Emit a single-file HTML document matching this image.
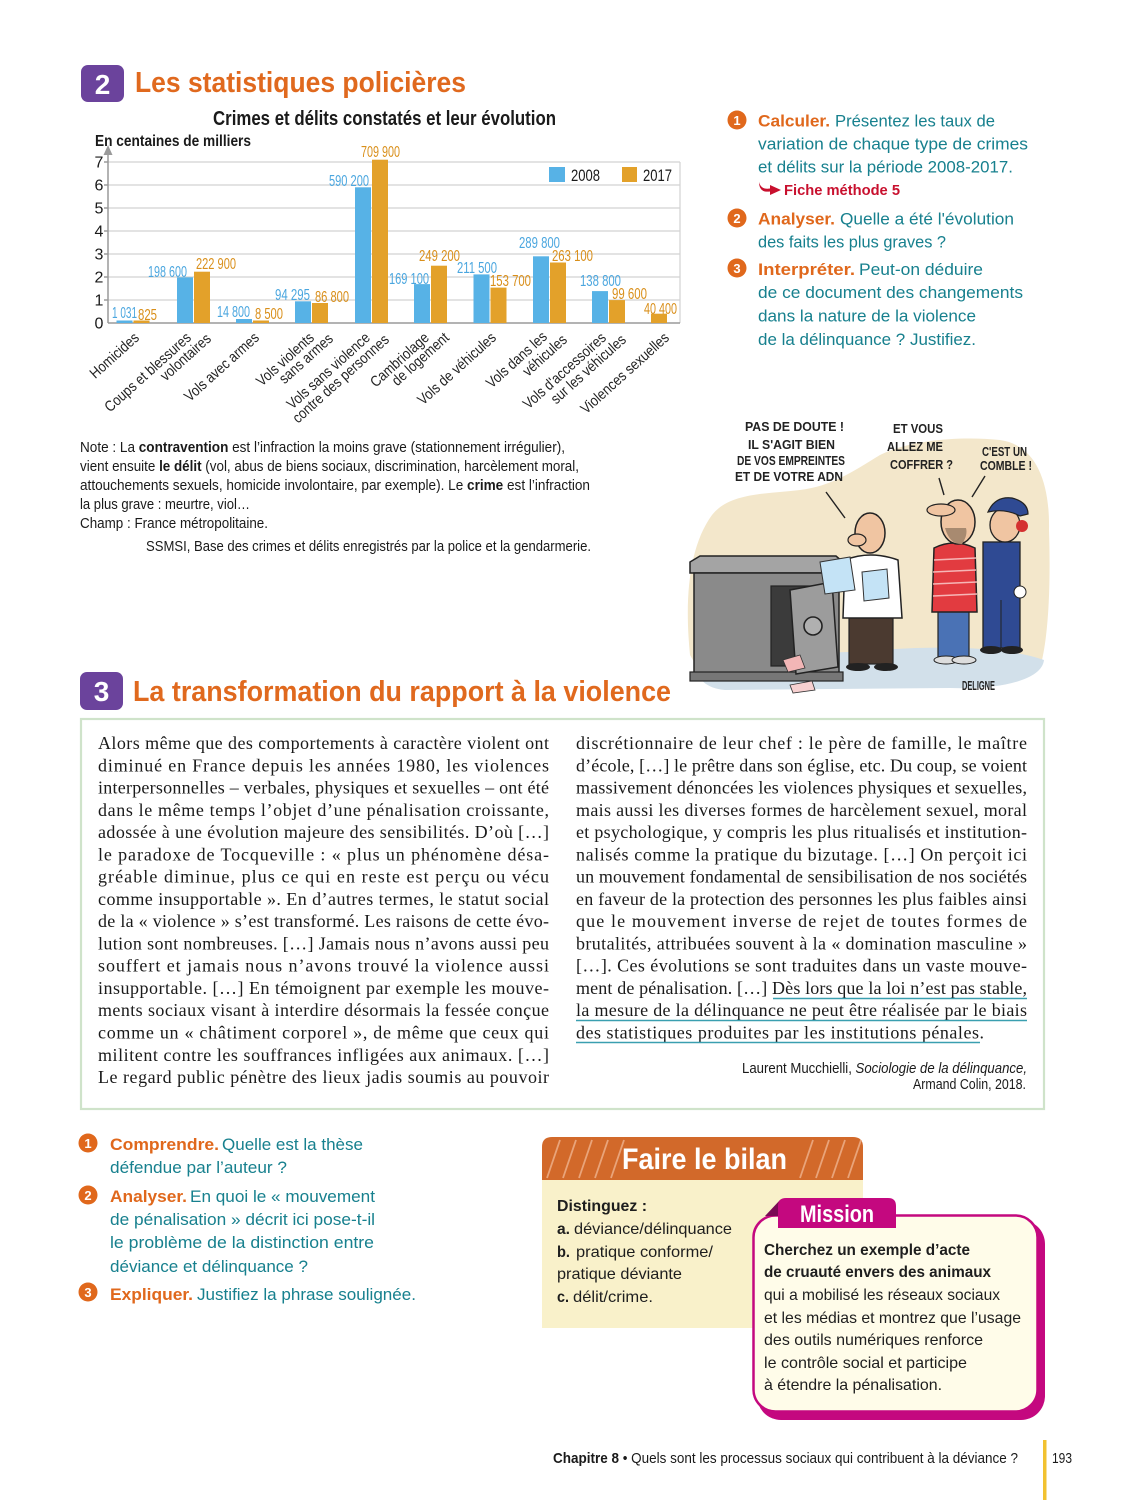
<!DOCTYPE html>
<html>
<head>
<meta charset="utf-8">
<style>
html,body{margin:0;padding:0;background:#fff;}
svg{display:block;}
text{font-family:"Liberation Sans",sans-serif;}
.ser text, text.ser{font-family:"Liberation Serif",serif;font-size:18px;fill:#1a1a1a;}
.q{font-size:17px;fill:#17808e;}
.qb{font-size:17px;fill:#e0681c;font-weight:bold;}
.nt{font-size:15px;fill:#1a1a1a;}
.xl text{font-size:15px;fill:#222;}
.lb{font-size:16px;fill:#4aa6df;}
.lo{font-size:16px;fill:#d98f1a;}
.hand{font-size:13px;fill:#222;font-weight:bold;}
.bil{font-size:16px;fill:#1e1e1e;}
.mis{font-size:16px;fill:#1e1e1e;}
</style>
</head>
<body>
<svg width="1125" height="1500" viewBox="0 0 1125 1500" xmlns="http://www.w3.org/2000/svg">
<rect x="0" y="0" width="1125" height="1500" fill="#fff"/>

<!-- ===== Section 2 header ===== -->
<rect x="81" y="65" width="43" height="37" rx="7" fill="#6b439c"/>
<text x="102.5" y="94" font-size="28" font-weight="bold" fill="#fff" text-anchor="middle">2</text>
<text x="135" y="92" font-size="29" font-weight="bold" fill="#e0691e" textLength="331" lengthAdjust="spacingAndGlyphs">Les statistiques policières</text>

<!-- ===== Chart ===== -->
<text x="213" y="125" font-size="20" font-weight="bold" fill="#1a1a1a" textLength="343" lengthAdjust="spacingAndGlyphs">Crimes et délits constatés et leur évolution</text>
<text x="95" y="146" font-size="16" font-weight="bold" fill="#1a1a1a" textLength="156" lengthAdjust="spacingAndGlyphs">En centaines de milliers</text>

<!-- grid -->
<g stroke="#d2d2d2" stroke-width="1.2">
<line x1="108" y1="300" x2="680" y2="300"/>
<line x1="108" y1="277" x2="680" y2="277"/>
<line x1="108" y1="254" x2="680" y2="254"/>
<line x1="108" y1="231" x2="680" y2="231"/>
<line x1="108" y1="208" x2="680" y2="208"/>
<line x1="108" y1="185" x2="680" y2="185"/>
<line x1="108" y1="162" x2="680" y2="162"/>
<line x1="680" y1="162" x2="680" y2="323"/>
</g>
<!-- axes -->
<g stroke="#9a9a9a" stroke-width="1.5">
<line x1="108" y1="151" x2="108" y2="323"/>
<line x1="108" y1="323" x2="680" y2="323"/>
<line x1="104" y1="300" x2="108" y2="300"/>
<line x1="104" y1="277" x2="108" y2="277"/>
<line x1="104" y1="254" x2="108" y2="254"/>
<line x1="104" y1="231" x2="108" y2="231"/>
<line x1="104" y1="208" x2="108" y2="208"/>
<line x1="104" y1="185" x2="108" y2="185"/>
<line x1="104" y1="162" x2="108" y2="162"/>
</g>
<polygon points="103.5,155 108,145 112.5,155" fill="#9a9a9a"/>
<!-- y labels -->
<g font-size="16" fill="#1a1a1a" text-anchor="middle">
<text x="99" y="328.5">0</text>
<text x="99" y="305.5">1</text>
<text x="99" y="282.5">2</text>
<text x="99" y="259.5">3</text>
<text x="99" y="236.5">4</text>
<text x="99" y="213.5">5</text>
<text x="99" y="190.5">6</text>
<text x="99" y="167.5">7</text>
</g>

<!-- legend -->
<rect x="549" y="167" width="16" height="15" fill="#57b2e6"/>
<text x="571" y="181" font-size="17" fill="#1a1a1a" textLength="29" lengthAdjust="spacingAndGlyphs">2008</text>
<rect x="622" y="167" width="15" height="15" fill="#e3a12a"/>
<text x="643" y="181" font-size="17" fill="#1a1a1a" textLength="29" lengthAdjust="spacingAndGlyphs">2017</text>

<!-- bars -->
<g fill="#57b2e6">
<rect x="116.5" y="320.5" width="16" height="2.5"/>
<rect x="177" y="277.3" width="16" height="45.7"/>
<rect x="236" y="319" width="16" height="4"/>
<rect x="295" y="301.3" width="16" height="21.7"/>
<rect x="355" y="187.3" width="16" height="135.7"/>
<rect x="414" y="284.1" width="16" height="38.9"/>
<rect x="473.5" y="274.4" width="16" height="48.6"/>
<rect x="533" y="256.3" width="16" height="66.7"/>
<rect x="592" y="291.1" width="16" height="31.9"/>
</g>
<g fill="#e3a12a">
<rect x="133.5" y="320.5" width="16" height="2.5"/>
<rect x="194" y="271.7" width="16" height="51.3"/>
<rect x="253" y="320.5" width="16" height="2.5"/>
<rect x="312" y="303" width="16" height="20"/>
<rect x="372" y="159.7" width="16" height="163.3"/>
<rect x="431" y="265.7" width="16" height="57.3"/>
<rect x="490.5" y="287.6" width="16" height="35.4"/>
<rect x="550" y="262.5" width="16" height="60.5"/>
<rect x="609" y="300.1" width="16" height="22.9"/>
<rect x="651" y="313.7" width="16" height="9.3"/>
</g>

<!-- value labels -->
<text class="lb" x="112" y="318" textLength="25" lengthAdjust="spacingAndGlyphs">1 031</text>
<text class="lo" x="138" y="320" textLength="19" lengthAdjust="spacingAndGlyphs">825</text>
<text class="lb" x="148" y="277" textLength="39" lengthAdjust="spacingAndGlyphs">198 600</text>
<text class="lo" x="196" y="269" textLength="40" lengthAdjust="spacingAndGlyphs">222 900</text>
<text class="lb" x="217" y="317" textLength="33" lengthAdjust="spacingAndGlyphs">14 800</text>
<text class="lo" x="255" y="319" textLength="28" lengthAdjust="spacingAndGlyphs">8 500</text>
<text class="lb" x="275" y="300" textLength="35" lengthAdjust="spacingAndGlyphs">94 295</text>
<text class="lo" x="315" y="302" textLength="34" lengthAdjust="spacingAndGlyphs">86 800</text>
<text class="lb" x="329" y="186" textLength="40" lengthAdjust="spacingAndGlyphs">590 200</text>
<text class="lo" x="361" y="157" textLength="39" lengthAdjust="spacingAndGlyphs">709 900</text>
<text class="lb" x="389" y="284" textLength="40" lengthAdjust="spacingAndGlyphs">169 100</text>
<text class="lo" x="419" y="261" textLength="41" lengthAdjust="spacingAndGlyphs">249 200</text>
<text class="lb" x="457" y="273" textLength="40" lengthAdjust="spacingAndGlyphs">211 500</text>
<text class="lo" x="490" y="286" textLength="41" lengthAdjust="spacingAndGlyphs">153 700</text>
<text class="lb" x="519" y="248" textLength="41" lengthAdjust="spacingAndGlyphs">289 800</text>
<text class="lo" x="552" y="261" textLength="41" lengthAdjust="spacingAndGlyphs">263 100</text>
<text class="lb" x="580" y="286" textLength="41" lengthAdjust="spacingAndGlyphs">138 800</text>
<text class="lo" x="612" y="299" textLength="35" lengthAdjust="spacingAndGlyphs">99 600</text>
<text class="lo" x="644" y="314" textLength="33" lengthAdjust="spacingAndGlyphs">40 400</text>

<!-- x labels -->
<g class="xl" text-anchor="end">
<text transform="translate(140,339) rotate(-42) scale(0.86,1)">Homicides</text>
<text transform="translate(192,339) rotate(-42) scale(0.86,1)">Coups et blessures</text>
<text transform="translate(212,340) rotate(-42) scale(0.86,1)">volontaires</text>
<text transform="translate(260,339) rotate(-42) scale(0.86,1)">Vols avec armes</text>
<text transform="translate(315,339) rotate(-42) scale(0.86,1)">Vols violents</text>
<text transform="translate(334,340) rotate(-42) scale(0.86,1)">sans armes</text>
<text transform="translate(371,339) rotate(-42) scale(0.86,1)">Vols sans violence</text>
<text transform="translate(390,341) rotate(-42) scale(0.86,1)">contre des personnes</text>
<text transform="translate(430,339) rotate(-42) scale(0.86,1)">Cambriolage</text>
<text transform="translate(450,339) rotate(-42) scale(0.86,1)">de logement</text>
<text transform="translate(497,339) rotate(-42) scale(0.86,1)">Vols de véhicules</text>
<text transform="translate(548,338) rotate(-42) scale(0.86,1)">Vols dans les</text>
<text transform="translate(568,341) rotate(-42) scale(0.86,1)">véhicules</text>
<text transform="translate(607,339) rotate(-42) scale(0.86,1)">Vols d'accessoires</text>
<text transform="translate(627,341) rotate(-42) scale(0.86,1)">sur les véhicules</text>
<text transform="translate(670,339) rotate(-42) scale(0.86,1)">Violences sexuelles</text>
</g>

<!-- note -->
<text class="nt" x="80" y="452" textLength="485" lengthAdjust="spacingAndGlyphs">Note : La <tspan font-weight="bold">contravention</tspan> est l’infraction la moins grave (stationnement irrégulier),</text>
<text class="nt" x="80" y="471" textLength="499" lengthAdjust="spacingAndGlyphs">vient ensuite <tspan font-weight="bold">le délit</tspan> (vol, abus de biens sociaux, discrimination, harcèlement moral,</text>
<text class="nt" x="80" y="490" textLength="510" lengthAdjust="spacingAndGlyphs">attouchements sexuels, homicide involontaire, par exemple). Le <tspan font-weight="bold">crime</tspan> est l’infraction</text>
<text class="nt" x="80" y="509" textLength="170" lengthAdjust="spacingAndGlyphs">la plus grave : meurtre, viol…</text>
<text class="nt" x="80" y="528" textLength="188" lengthAdjust="spacingAndGlyphs">Champ : France métropolitaine.</text>
<text class="nt" x="146" y="551" textLength="445" lengthAdjust="spacingAndGlyphs">SSMSI, Base des crimes et délits enregistrés par la police et la gendarmerie.</text>

<!-- ===== Right questions ===== -->
<circle cx="737" cy="120" r="9.5" fill="#e0681c"/>
<text x="737" y="125" font-size="13" font-weight="bold" fill="#fff" text-anchor="middle">1</text>
<text class="qb" x="758" y="126.5" textLength="72" lengthAdjust="spacingAndGlyphs">Calculer.</text>
<text class="q" x="835" y="126.5" textLength="160" lengthAdjust="spacingAndGlyphs">Présentez les taux de</text>
<text class="q" x="758" y="149.5" textLength="270" lengthAdjust="spacingAndGlyphs">variation de chaque type de crimes</text>
<text class="q" x="758" y="172.5" textLength="255" lengthAdjust="spacingAndGlyphs">et délits sur la période 2008-2017.</text>
<path d="M759,182 Q761,190 770,188.5 L770,185 L781,190 L770,195 L770,191.5 Q759,193 759,182 Z" fill="#c8102e"/>
<text x="784" y="195" font-size="14.5" font-weight="bold" fill="#c8102e" textLength="116" lengthAdjust="spacingAndGlyphs">Fiche méthode 5</text>

<circle cx="737" cy="218" r="9.5" fill="#e0681c"/>
<text x="737" y="223" font-size="13" font-weight="bold" fill="#fff" text-anchor="middle">2</text>
<text class="qb" x="758" y="224.5" textLength="77" lengthAdjust="spacingAndGlyphs">Analyser.</text>
<text class="q" x="840" y="224.5" textLength="174" lengthAdjust="spacingAndGlyphs">Quelle a été l'évolution</text>
<text class="q" x="758" y="247.5" textLength="188" lengthAdjust="spacingAndGlyphs">des faits les plus graves ?</text>

<circle cx="737" cy="268" r="9.5" fill="#e0681c"/>
<text x="737" y="273" font-size="13" font-weight="bold" fill="#fff" text-anchor="middle">3</text>
<text class="qb" x="758" y="275" textLength="97" lengthAdjust="spacingAndGlyphs">Interpréter.</text>
<text class="q" x="859" y="275" textLength="124" lengthAdjust="spacingAndGlyphs">Peut-on déduire</text>
<text class="q" x="758" y="298" textLength="265" lengthAdjust="spacingAndGlyphs">de ce document des changements</text>
<text class="q" x="758" y="321.5" textLength="218" lengthAdjust="spacingAndGlyphs">dans la nature de la violence</text>
<text class="q" x="758" y="345" textLength="218" lengthAdjust="spacingAndGlyphs">de la délinquance ? Justifiez.</text>

<!-- ===== Cartoon ===== -->
<path d="M690,655 C684,595 690,545 712,515 C730,492 768,494 800,490 C832,486 852,472 880,455 C910,440 960,436 1000,440 C1036,445 1050,482 1049,530 C1051,590 1048,640 1040,668 L700,672 Z" fill="#f3e7cb"/>
<path d="M698,662 C750,648 820,656 880,650 C950,645 1010,648 1044,660 C1042,680 1000,690 950,688 L725,690 C702,688 694,674 698,662 Z" fill="#d2e0ea"/>
<!-- safe -->
<polygon points="690,562 700,556 836,556 843,562 843,573 690,573" fill="#a4a4a4" stroke="#222" stroke-width="1.5"/>
<rect x="694" y="573" width="145" height="102" fill="#8a8a8a" stroke="#222" stroke-width="1.5"/>
<rect x="690" y="672" width="153" height="9" fill="#777" stroke="#222" stroke-width="1.2"/>
<rect x="771" y="586" width="40" height="80" fill="#3b3b3b" stroke="#222" stroke-width="1.2"/>
<polygon points="790,590 832,582 838,667 796,674" fill="#9c9c9c" stroke="#222" stroke-width="1.5"/>
<circle cx="813" cy="626" r="9" fill="#b0b0b0" stroke="#222" stroke-width="1.6"/>
<polygon points="783,660 800,655 805,668 788,672" fill="#f2b6b6" stroke="#333" stroke-width="0.8"/>
<polygon points="790,685 812,681 815,690 793,693" fill="#f7d0d0" stroke="#333" stroke-width="0.8"/>
<!-- man 1 -->
<rect x="849" y="612" width="44" height="52" fill="#4b3a30" stroke="#222" stroke-width="1.2"/>
<ellipse cx="858" cy="667" rx="12" ry="4" fill="#222"/>
<ellipse cx="886" cy="667" rx="12" ry="4" fill="#222"/>
<path d="M845,560 Q870,550 898,560 L902,618 L843,618 Z" fill="#fff" stroke="#222" stroke-width="1.5"/>
<ellipse cx="870" cy="533" rx="15" ry="20" fill="#f0c5a2" stroke="#222" stroke-width="1.5"/>
<ellipse cx="857" cy="540" rx="9" ry="6" fill="#f0c5a2" stroke="#222" stroke-width="1.2"/>
<polygon points="820,562 850,557 855,590 825,594" fill="#c4e3f6" stroke="#333" stroke-width="1"/>
<polygon points="862,572 887,569 889,598 864,601" fill="#c4e3f6" stroke="#333" stroke-width="1"/>
<!-- man 2 -->
<rect x="938" y="606" width="31" height="52" fill="#4a72b5" stroke="#222" stroke-width="1.2"/>
<ellipse cx="946" cy="660" rx="12" ry="4" fill="#ddd" stroke="#222"/>
<ellipse cx="964" cy="660" rx="12" ry="4" fill="#ddd" stroke="#222"/>
<path d="M934,548 Q954,538 975,548 L977,612 L932,612 Z" fill="#e23b40" stroke="#222" stroke-width="1.5"/>
<g stroke="#f6b6b6" stroke-width="1.4">
<line x1="934" y1="560" x2="976" y2="558"/><line x1="933" y1="572" x2="976" y2="570"/>
<line x1="933" y1="584" x2="977" y2="582"/><line x1="933" y1="596" x2="977" y2="594"/>
</g>
<ellipse cx="958" cy="522" rx="17" ry="22" fill="#f0c5a2" stroke="#222" stroke-width="1.5"/>
<path d="M945,528 Q950,545 962,544 Q968,535 966,528 Z" fill="#a88a70"/>
<ellipse cx="941" cy="510" rx="14" ry="6" fill="#f0c5a2" stroke="#222" stroke-width="1.2"/>
<!-- gendarme -->
<rect x="983" y="542" width="37" height="106" fill="#2f4a93" stroke="#222" stroke-width="1.3"/>
<line x1="1001" y1="600" x2="1001" y2="648" stroke="#222" stroke-width="1"/>
<ellipse cx="991" cy="650" rx="11" ry="4" fill="#222"/>
<ellipse cx="1012" cy="650" rx="11" ry="4" fill="#222"/>
<circle cx="1020" cy="592" r="6" fill="#fff" stroke="#222"/>
<ellipse cx="1005" cy="525" rx="15" ry="17" fill="#f0c5a2" stroke="#222" stroke-width="1.3"/>
<path d="M988,512 Q995,496 1012,498 Q1028,502 1028,514 L1020,516 Q1005,508 988,512 Z" fill="#2f4a93" stroke="#222" stroke-width="1.2"/>
<circle cx="1022" cy="526" r="6" fill="#d43030"/>
<!-- speech -->
<g fill="none" stroke="#222" stroke-width="1.4">
<path d="M826,492 L845,518"/>
<path d="M939,478 L944,495"/>
<path d="M985,476 L972,497"/>
</g>
<text class="hand" x="745" y="431" textLength="99" lengthAdjust="spacingAndGlyphs">PAS DE DOUTE !</text>
<text class="hand" x="748" y="449" textLength="87" lengthAdjust="spacingAndGlyphs">IL S'AGIT BIEN</text>
<text class="hand" x="737" y="465" textLength="108" lengthAdjust="spacingAndGlyphs">DE VOS EMPREINTES</text>
<text class="hand" x="735" y="481" textLength="108" lengthAdjust="spacingAndGlyphs">ET DE VOTRE ADN</text>
<text class="hand" x="893" y="433" textLength="50" lengthAdjust="spacingAndGlyphs">ET VOUS</text>
<text class="hand" x="887" y="451" textLength="56" lengthAdjust="spacingAndGlyphs">ALLEZ ME</text>
<text class="hand" x="890" y="469" textLength="63" lengthAdjust="spacingAndGlyphs">COFFRER ?</text>
<text class="hand" x="982" y="456" textLength="45" lengthAdjust="spacingAndGlyphs">C'EST UN</text>
<text class="hand" x="980" y="470" textLength="52" lengthAdjust="spacingAndGlyphs">COMBLE !</text>
<text class="hand" x="962" y="690" font-size="11" textLength="33" lengthAdjust="spacingAndGlyphs">DELIGNE</text>

<!-- ===== Section 3 header ===== -->
<rect x="80" y="672" width="43" height="38" rx="7" fill="#6b439c"/>
<text x="101.5" y="701" font-size="28" font-weight="bold" fill="#fff" text-anchor="middle">3</text>
<text x="133" y="701" font-size="29" font-weight="bold" fill="#e0691e" textLength="538" lengthAdjust="spacingAndGlyphs">La transformation du rapport à la violence</text>

<!-- text box -->
<rect x="81" y="719" width="963" height="390" fill="none" stroke="#cfe3ca" stroke-width="2.2"/>

<!-- column 1 -->
<g class="ser">
<text x="98" y="749" textLength="451" lengthAdjust="spacing">Alors même que des comportements à caractère violent ont</text>
<text x="98" y="771.3" textLength="451" lengthAdjust="spacing">diminué en France depuis les années 1980, les violences</text>
<text x="98" y="793.5" textLength="451" lengthAdjust="spacing">interpersonnelles – verbales, physiques et sexuelles – ont été</text>
<text x="98" y="815.8" textLength="451" lengthAdjust="spacing">dans le même temps l’objet d’une pénalisation croissante,</text>
<text x="98" y="838.1" textLength="451" lengthAdjust="spacing">adossée à une évolution majeure des sensibilités. D’où […]</text>
<text x="98" y="860.4" textLength="451" lengthAdjust="spacing">le paradoxe de Tocqueville : « plus un phénomène désa-</text>
<text x="98" y="882.6" textLength="451" lengthAdjust="spacing">gréable diminue, plus ce qui en reste est perçu ou vécu</text>
<text x="98" y="904.9" textLength="451" lengthAdjust="spacing">comme insupportable ». En d’autres termes, le statut social</text>
<text x="98" y="927.2" textLength="451" lengthAdjust="spacing">de la « violence » s’est transformé. Les raisons de cette évo-</text>
<text x="98" y="949.4" textLength="451" lengthAdjust="spacing">lution sont nombreuses. […] Jamais nous n’avons aussi peu</text>
<text x="98" y="971.7" textLength="451" lengthAdjust="spacing">souffert et jamais nous n’avons trouvé la violence aussi</text>
<text x="98" y="994" textLength="451" lengthAdjust="spacing">insupportable. […] En témoignent par exemple les mouve-</text>
<text x="98" y="1016.2" textLength="451" lengthAdjust="spacing">ments sociaux visant à interdire désormais la fessée conçue</text>
<text x="98" y="1038.5" textLength="451" lengthAdjust="spacing">comme un « châtiment corporel », de même que ceux qui</text>
<text x="98" y="1060.8" textLength="451" lengthAdjust="spacing">militent contre les souffrances infligées aux animaux. […]</text>
<text x="98" y="1083.1" textLength="451" lengthAdjust="spacing">Le regard public pénètre des lieux jadis soumis au pouvoir</text>
</g>
<!-- column 2 -->
<g class="ser">
<text x="576" y="749" textLength="451" lengthAdjust="spacing">discrétionnaire de leur chef : le père de famille, le maître</text>
<text x="576" y="771.3" textLength="451" lengthAdjust="spacing">d’école, […] le prêtre dans son église, etc. Du coup, se voient</text>
<text x="576" y="793.5" textLength="451" lengthAdjust="spacing">massivement dénoncées les violences physiques et sexuelles,</text>
<text x="576" y="815.8" textLength="451" lengthAdjust="spacing">mais aussi les diverses formes de harcèlement sexuel, moral</text>
<text x="576" y="838.1" textLength="451" lengthAdjust="spacing">et psychologique, y compris les plus ritualisés et institution-</text>
<text x="576" y="860.4" textLength="451" lengthAdjust="spacing">nalisés comme la pratique du bizutage. […] On perçoit ici</text>
<text x="576" y="882.6" textLength="451" lengthAdjust="spacing">un mouvement fondamental de sensibilisation de nos sociétés</text>
<text x="576" y="904.9" textLength="451" lengthAdjust="spacing">en faveur de la protection des personnes les plus faibles ainsi</text>
<text x="576" y="927.2" textLength="451" lengthAdjust="spacing">que le mouvement inverse de rejet de toutes formes de</text>
<text x="576" y="949.4" textLength="451" lengthAdjust="spacing">brutalités, attribuées souvent à la « domination masculine »</text>
<text x="576" y="971.7" textLength="451" lengthAdjust="spacing">[…]. Ces évolutions se sont traduites dans un vaste mouve-</text>
<text x="576" y="994" textLength="451" lengthAdjust="spacing">ment de pénalisation. […] Dès lors que la loi n’est pas stable,</text>
<text x="576" y="1016.2" textLength="451" lengthAdjust="spacing">la mesure de la délinquance ne peut être réalisée par le biais</text>
<text x="576" y="1038.5" textLength="408" lengthAdjust="spacing">des statistiques produites par les institutions pénales.</text>
</g>
<g stroke="#3a9fb0" stroke-width="1.6">
<line x1="773" y1="998.5" x2="1027" y2="998.5"/>
<line x1="576" y1="1020.5" x2="1027" y2="1020.5"/>
<line x1="576" y1="1042.5" x2="980" y2="1042.5"/>
</g>
<text x="742" y="1073" font-size="15" fill="#1a1a1a" textLength="285" lengthAdjust="spacingAndGlyphs">Laurent Mucchielli, <tspan font-style="italic">Sociologie de la délinquance,</tspan></text>
<text x="913" y="1089" font-size="15" fill="#1a1a1a" textLength="113" lengthAdjust="spacingAndGlyphs">Armand Colin, 2018.</text>

<!-- ===== Bottom questions ===== -->
<circle cx="88" cy="1143" r="9.5" fill="#e0681c"/>
<text x="88" y="1148" font-size="13" font-weight="bold" fill="#fff" text-anchor="middle">1</text>
<text class="qb" x="110" y="1150" textLength="109" lengthAdjust="spacingAndGlyphs">Comprendre.</text>
<text class="q" x="222" y="1150" textLength="141" lengthAdjust="spacingAndGlyphs">Quelle est la thèse</text>
<text class="q" x="110" y="1173" textLength="177" lengthAdjust="spacingAndGlyphs">défendue par l’auteur ?</text>

<circle cx="88" cy="1195" r="9.5" fill="#e0681c"/>
<text x="88" y="1200" font-size="13" font-weight="bold" fill="#fff" text-anchor="middle">2</text>
<text class="qb" x="110" y="1202" textLength="77" lengthAdjust="spacingAndGlyphs">Analyser.</text>
<text class="q" x="190" y="1202" textLength="185" lengthAdjust="spacingAndGlyphs">En quoi le « mouvement</text>
<text class="q" x="110" y="1225" textLength="265" lengthAdjust="spacingAndGlyphs">de pénalisation » décrit ici pose-t-il</text>
<text class="q" x="110" y="1248" textLength="264" lengthAdjust="spacingAndGlyphs">le problème de la distinction entre</text>
<text class="q" x="110" y="1272" textLength="198" lengthAdjust="spacingAndGlyphs">déviance et délinquance ?</text>

<circle cx="88" cy="1292" r="9.5" fill="#e0681c"/>
<text x="88" y="1297" font-size="13" font-weight="bold" fill="#fff" text-anchor="middle">3</text>
<text class="qb" x="110" y="1300" textLength="83" lengthAdjust="spacingAndGlyphs">Expliquer.</text>
<text class="q" x="197" y="1300" textLength="219" lengthAdjust="spacingAndGlyphs">Justifiez la phrase soulignée.</text>

<!-- ===== Faire le bilan ===== -->
<rect x="542" y="1180" width="321" height="148" fill="#f9f1ca"/>
<path d="M542,1180 L542,1147 Q542,1137 552,1137 L853,1137 Q863,1137 863,1147 L863,1180 Z" fill="#d2692a"/>
<g stroke="#e9a47a" stroke-width="1.8">
<line x1="547" y1="1178" x2="560" y2="1140"/>
<line x1="563" y1="1178" x2="576" y2="1140"/>
<line x1="579" y1="1178" x2="592" y2="1140"/>
<line x1="595" y1="1178" x2="608" y2="1140"/>
<line x1="611" y1="1178" x2="624" y2="1140"/>
<line x1="800" y1="1178" x2="813" y2="1140"/>
<line x1="816" y1="1178" x2="829" y2="1140"/>
<line x1="832" y1="1178" x2="845" y2="1140"/>
<line x1="848" y1="1178" x2="861" y2="1140"/>
</g>
<text x="622" y="1169" font-size="30" font-weight="bold" fill="#fff" textLength="165" lengthAdjust="spacingAndGlyphs">Faire le bilan</text>
<text class="bil" x="557" y="1211" font-weight="bold" textLength="90" lengthAdjust="spacingAndGlyphs">Distinguez :</text>
<text class="bil" x="557" y="1234" font-weight="bold" textLength="13" lengthAdjust="spacingAndGlyphs">a.</text>
<text class="bil" x="574" y="1234" textLength="158" lengthAdjust="spacingAndGlyphs">déviance/délinquance</text>
<text class="bil" x="557" y="1257" font-weight="bold" textLength="13" lengthAdjust="spacingAndGlyphs">b.</text>
<text class="bil" x="576" y="1257" textLength="137" lengthAdjust="spacingAndGlyphs">pratique conforme/</text>
<text class="bil" x="557" y="1279" textLength="125" lengthAdjust="spacingAndGlyphs">pratique déviante</text>
<text class="bil" x="557" y="1302" font-weight="bold" textLength="12" lengthAdjust="spacingAndGlyphs">c.</text>
<text class="bil" x="573" y="1302" textLength="80" lengthAdjust="spacingAndGlyphs">délit/crime.</text>

<!-- ===== Mission ===== -->
<rect x="757" y="1220" width="288" height="200" rx="24" fill="#c4087f"/>
<rect x="753.5" y="1215.5" width="284" height="196" rx="22" fill="#fffce9" stroke="#c4087f" stroke-width="2.5"/>
<polygon points="765,1216 780,1200 780,1216" fill="#7a0a55"/>
<path d="M778,1228 L778,1206 Q778,1198 786,1198 L888,1198 Q896,1198 896,1206 L896,1228 Z" fill="#c4087f"/>
<text x="800" y="1222" font-size="24" font-weight="bold" fill="#fff" textLength="74" lengthAdjust="spacingAndGlyphs">Mission</text>
<text class="mis" x="764" y="1255" font-weight="bold" textLength="206" lengthAdjust="spacingAndGlyphs">Cherchez un exemple d’acte</text>
<text class="mis" x="764" y="1277" font-weight="bold" textLength="227" lengthAdjust="spacingAndGlyphs">de cruauté envers des animaux</text>
<text class="mis" x="764" y="1300" textLength="236" lengthAdjust="spacingAndGlyphs">qui a mobilisé les réseaux sociaux</text>
<text class="mis" x="764" y="1323" textLength="257" lengthAdjust="spacingAndGlyphs">et les médias et montrez que l’usage</text>
<text class="mis" x="764" y="1345" textLength="219" lengthAdjust="spacingAndGlyphs">des outils numériques renforce</text>
<text class="mis" x="764" y="1368" textLength="203" lengthAdjust="spacingAndGlyphs">le contrôle social et participe</text>
<text class="mis" x="764" y="1390" textLength="178" lengthAdjust="spacingAndGlyphs">à étendre la pénalisation.</text>

<!-- ===== Footer ===== -->
<text x="553" y="1463" font-size="15" fill="#1a1a1a" textLength="465" lengthAdjust="spacingAndGlyphs"><tspan font-weight="bold">Chapitre 8</tspan> • Quels sont les processus sociaux qui contribuent à la déviance ?</text>
<rect x="1043" y="1440" width="3.5" height="60" fill="#f2c230"/>
<text x="1052" y="1463" font-size="15" fill="#1a1a1a" textLength="20" lengthAdjust="spacingAndGlyphs">193</text>
</svg>
</body>
</html>
